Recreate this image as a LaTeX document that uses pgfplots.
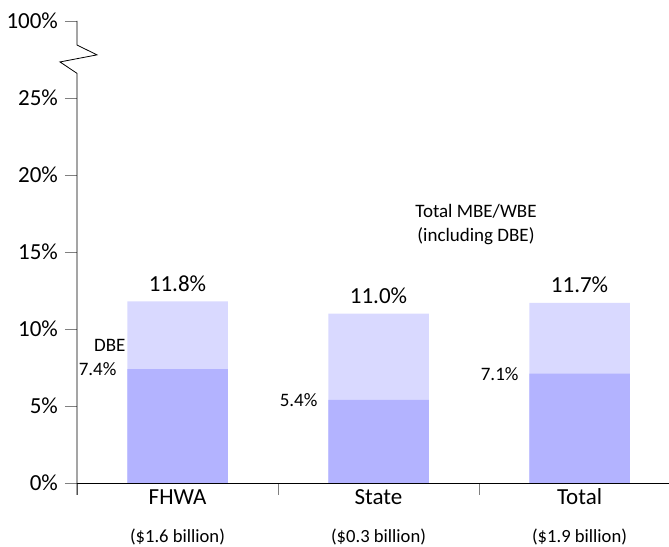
\documentclass[border=0pt]{standalone}
\usepackage{pgfplots}
\pgfplotsset{compat=1.18}
\usepackage{fontspec}
\setmainfont{Carlito}

\definecolor{dbe}{HTML}{B3B3FF}
\definecolor{mwbe}{HTML}{D9D9FF}

\newcommand{\cat}[2]{\rule{0pt}{9pt}#1\\[6pt]{\fontsize{9.3}{11}\selectfont(\$#2 billion)}}

\begin{document}
\begin{tikzpicture}
    \begin{axis}[
        scale only axis,
        width  = 296pt,
        height = 231pt,
        clip = false,
        xmin = -0.5, xmax = 2.445,
        ymin = 0, ymax = 30,
        axis lines* = left,
        y axis line style = {draw=none},
        ybar,
        bar width = 0.5,
        ytick = {0,5,10,15,20,25,30},
        yticklabels = {0\%,5\%,10\%,15\%,20\%,25\%,100\%},
        ytick align = outside,
        xtick = {-0.5,0.5,1.5},
        xticklabels = {},
        xtick align = outside,
        major tick length = 6pt,
        extra x ticks = {0,1,2},
        extra x tick labels = {{\cat{FHWA}{1.6}},{\cat{State}{0.3}},{\cat{Total}{1.9}}},
        extra x tick style = {major tick length=0pt,
            xticklabel style={align=center, yshift=2pt}},
        tick label style = {font=\fontsize{11.5}{13}\selectfont},
        /pgf/number format/assume math mode=true,
    ]
        % total MBE/WBE (including DBE)
        \addplot[fill=mwbe, draw=none, bar shift=0pt,
            nodes near coords,
            point meta=explicit symbolic,
            every node near coord/.append style={anchor=center, yshift=9pt,
                font=\fontsize{11.5}{13}\selectfont, black}]
        table [meta=lab] {
            x  y     lab
            0  11.8  11.8\%
            1  11.0  11.0\%
            2  11.7  11.7\%
        };
        % DBE share
        \addplot[fill=dbe, draw=none, bar shift=0pt,
            nodes near coords,
            point meta=explicit symbolic,
            every node near coord/.append style={anchor=east, xshift=-27pt, yshift=0pt,
                font=\fontsize{9.5}{11}\selectfont, black}]
        table [meta=lab] {
            x  y    lab
            0  7.4  7.4\%
            1  5.4  5.4\%
            2  7.1  7.1\%
        };

        \node[anchor=west, font=\fontsize{9.5}{11}\selectfont] at (axis cs:-0.45,8.96) {DBE};
        \node[align=center, font=\fontsize{9.5}{12}\selectfont] at (axis cs:1.485,16.8)
            {Total MBE/WBE\\(including DBE)};

        % y axis with break
        \draw ([yshift=-6pt]axis cs:-0.5,0) -- (axis cs:-0.5,26.6)
            -- ([xshift=-8.5pt]axis cs:-0.5,27.34)
            -- ([xshift=10pt]axis cs:-0.5,27.8)
            -- (axis cs:-0.5,28.44) -- (axis cs:-0.5,30);

        \coordinate (ll) at (rel axis cs:0,0);
        \coordinate (ur) at (rel axis cs:1,1);
    \end{axis}
    \pgfresetboundingbox
    \path ([xshift=-38.5pt,yshift=-32pt]ll) rectangle ([yshift=10.5pt]ur);
\end{tikzpicture}
\end{document}
